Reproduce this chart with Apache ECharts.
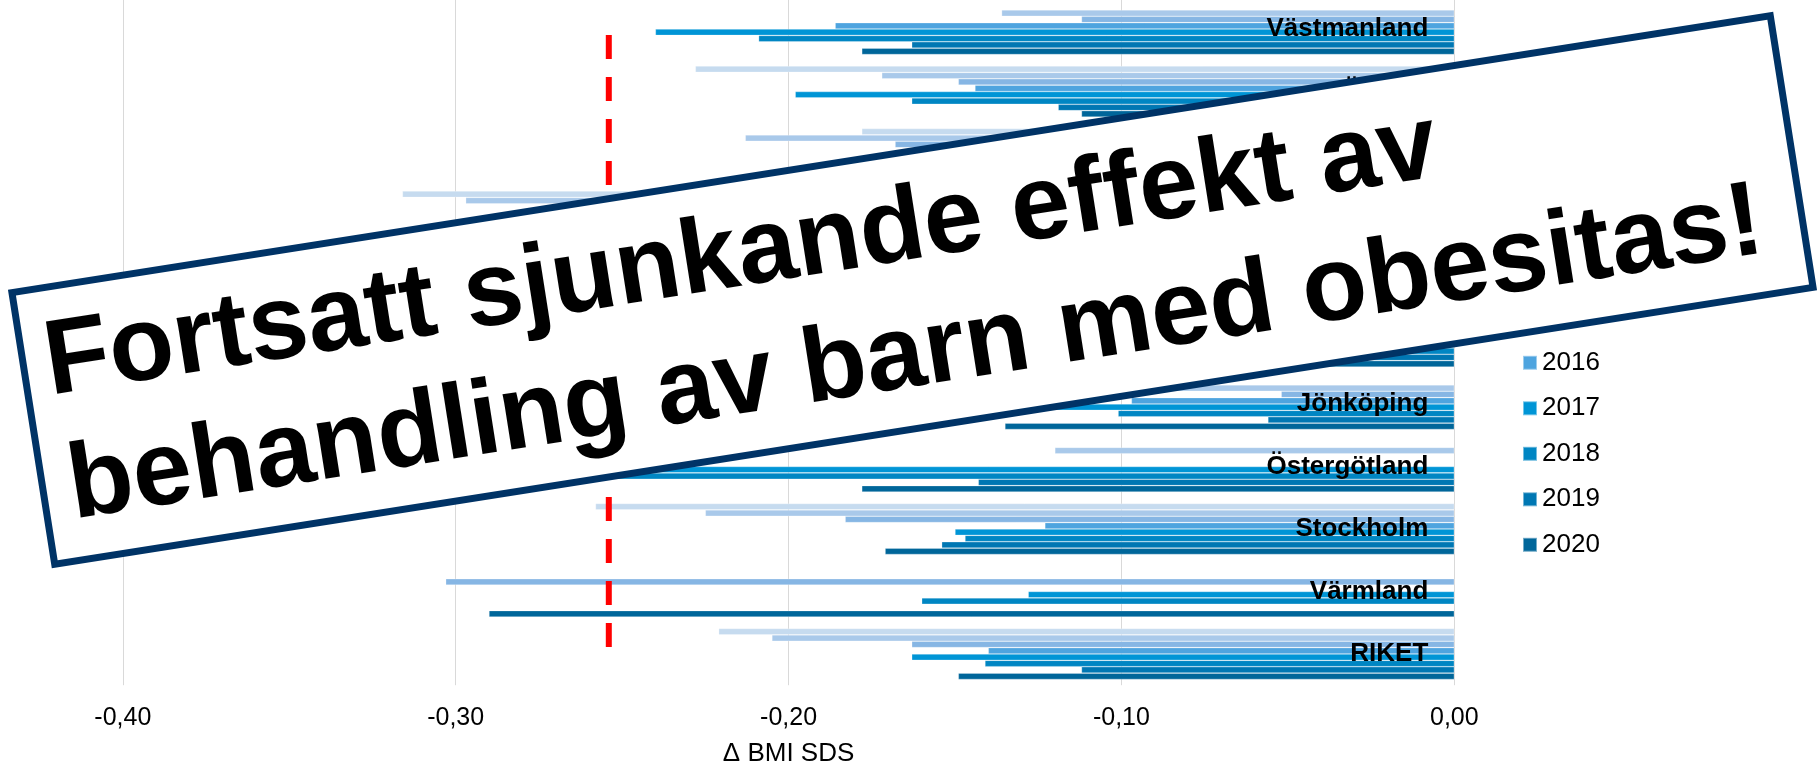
<!DOCTYPE html>
<html><head><meta charset="utf-8">
<script src="https://cdn.jsdelivr.net/npm/echarts@6/dist/echarts.min.js"></script>
<style>html,body{margin:0;padding:0;background:#fff}#c{width:1817px;height:767px}</style>
</head><body><div id="c"></div>
<script>
// categories bottom -> top
const categories = ['RIKET','Värmland','Stockholm','Östergötland','Jönköping','Skåne','Kalmar','Halland','Uppsala','Örebro','Västmanland'];
const years = ['2013','2014','2015','2016','2017','2018','2019','2020'];
const y2013 = [-0.221, null, -0.258, null, null, -0.15, -0.20, -0.316, -0.178, -0.228, null];
const y2014 = [-0.205, null, -0.225, -0.120, -0.12, -0.13, -0.18, -0.297, -0.213, -0.172, -0.136];
const y2015 = [-0.163, -0.303, -0.183, null, -0.052, -0.12, -0.16, -0.25, -0.168, -0.149, -0.112];
const y2016 = [-0.140, null, -0.123, null, -0.097, -0.14, -0.17, -0.22, -0.15, -0.144, -0.186];
const y2017 = [-0.163, -0.128, -0.150, -0.28, -0.125, -0.16, -0.19, -0.27, -0.17, -0.198, -0.240];
const y2018 = [-0.141, -0.160, -0.147, -0.26, -0.101, -0.13, -0.15, -0.24, -0.16, -0.163, -0.209];
const y2019 = [-0.112, null, -0.154, -0.143, -0.056, -0.12, -0.14, -0.21, -0.14, -0.119, -0.163];
const y2020 = [-0.149, -0.290, -0.171, -0.178, -0.135, -0.11, -0.16, -0.23, -0.13, -0.112, -0.178];
const seriesValues = [y2013, y2014, y2015, y2016, y2017, y2018, y2019, y2020];
const colors = ['#c6dbef','#a9c9ea','#86b6e4','#4ea4df','#0095d6','#0086c3','#0077b3','#00669a'];
const targetLine = -0.254;
const xTicks = {min: -0.4, max: 0, interval: 0.1};
const axisTitle = 'Δ BMI SDS';
const bannerLine1 = 'Fortsatt sjunkande effekt av';
const bannerLine2 = 'behandling av barn med obesitas!';

const FONT = '"Liberation Sans", Arial, sans-serif';
const chart = echarts.init(document.getElementById('c'), null, {renderer: 'canvas'});

const series = years.map((y, i) => ({
  name: y,
  type: 'bar',
  data: seriesValues[i],
  barGap: '0%',
  barCategoryGap: '18.4%',
  itemStyle: {color: colors[i], borderColor: 'rgba(255,255,255,0.45)', borderWidth: 0.6},
  emphasis: {disabled: true}
}));
series.push({
  name: 'target',
  type: 'line',
  data: [[targetLine, categories[categories.length - 1]], [targetLine, categories[0]]],
  symbol: 'none',
  silent: true,
  z: 5,
  lineStyle: {color: '#ff0000', width: 6, type: [24, 18], dashOffset: 36, cap: 'butt'},
  emphasis: {disabled: true}
});

chart.setOption({
  animation: false,
  backgroundColor: '#fff',
  grid: {left: 122.8, right: 362.7, top: -2.2, bottom: 81.8, containLabel: false, outerBoundsMode: 'none'},
  xAxis: {
    type: 'value', min: xTicks.min, max: xTicks.max, interval: xTicks.interval,
    axisLine: {show: false}, axisTick: {show: false},
    splitLine: {show: true, lineStyle: {color: '#d9d9d9', width: 1}},
    axisLabel: {fontFamily: FONT, fontSize: 25, color: '#000', margin: 20,
      formatter: v => v.toFixed(2).replace('.', ',')},
    name: axisTitle, nameLocation: 'middle', nameGap: 56,
    nameTextStyle: {fontFamily: FONT, fontSize: 26, color: '#000'}
  },
  yAxis: {
    type: 'category', data: categories, position: 'right', z: 6,
    axisLine: {show: false}, axisTick: {show: false}, splitLine: {show: false},
    axisLabel: {inside: true, margin: 26, fontFamily: FONT, fontSize: 26, fontWeight: 'bold', color: '#000'}
  },
  legend: {
    orient: 'vertical', left: 1522, top: 213.3, padding: 0, itemWidth: 14, itemHeight: 14, itemGap: 19.5,
    icon: 'rect', data: years,
    textStyle: {fontFamily: FONT, fontSize: 26, color: '#000', lineHeight: 26}
  },
  series: series,
  graphic: [{
    type: 'group', x: 912.5, y: 290, rotation: 0.1562, z: 100,
    children: [
      {type: 'rect', z: 100, shape: {x: -890, y: -137.5, width: 1780, height: 275},
       style: {fill: '#fff', stroke: '#003366', lineWidth: 7}},
      {type: 'text', z: 101, x: -868, y: -60,
       style: {text: bannerLine1, font: 'bold 106px ' + FONT, fill: '#000', align: 'left', verticalAlign: 'middle'}},
      {type: 'text', z: 101, x: -864, y: 66,
       style: {text: bannerLine2, font: 'bold 106px ' + FONT, fill: '#000', align: 'left', verticalAlign: 'middle'}}
    ]
  }]
});
</script></body></html>
